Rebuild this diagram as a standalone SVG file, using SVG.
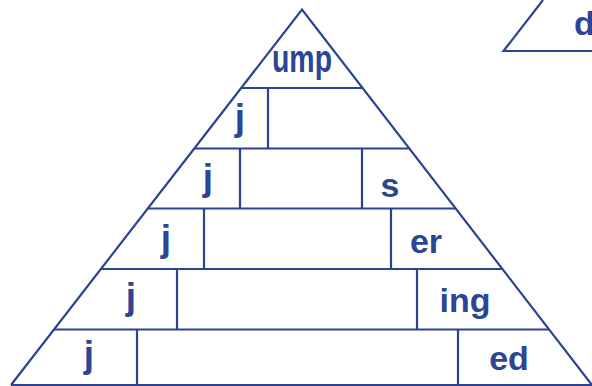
<svg xmlns="http://www.w3.org/2000/svg" width="592" height="386" viewBox="0 0 592 386">
<style>
.ln{stroke:#2b4391;stroke-width:2.2;fill:none;stroke-linecap:butt}
.t{font-family:"Liberation Sans",Arial,sans-serif;font-weight:bold;font-size:34px;fill:#2c4594;text-anchor:middle}
.j{font-size:37px}
</style>
<rect width="592" height="386" fill="#fff"/>
<g id="connectors">
<polyline class="ln" points="11,385 302,9.5 592,385"/>
<line class="ln" x1="11" y1="385" x2="592" y2="385"/>
<line class="ln" x1="241.2" y1="88" x2="362.6" y2="88"/>
<line class="ln" x1="194.3" y1="148.5" x2="409.3" y2="148.5"/>
<line class="ln" x1="147.8" y1="208.5" x2="455.6" y2="208.5"/>
<line class="ln" x1="100.9" y1="269" x2="502.3" y2="269"/>
<line class="ln" x1="54" y1="329.5" x2="549" y2="329.5"/>
<line class="ln" x1="268" y1="88" x2="268" y2="148.5"/>
<line class="ln" x1="240" y1="148.5" x2="240" y2="208.5"/>
<line class="ln" x1="362" y1="148.5" x2="362" y2="208.5"/>
<line class="ln" x1="204" y1="208.5" x2="204" y2="269"/>
<line class="ln" x1="391" y1="208.5" x2="391" y2="269"/>
<line class="ln" x1="177" y1="269" x2="177" y2="329.5"/>
<line class="ln" x1="417" y1="269" x2="417" y2="329.5"/>
<line class="ln" x1="137" y1="329.5" x2="137" y2="385"/>
<line class="ln" x1="458" y1="329.5" x2="458" y2="385"/>
<polyline class="ln" points="543,0 503.5,51 592,51"/>
</g>
<g id="n-ump"><text class="t" x="302" y="72" style="font-size:38px" textLength="60" lengthAdjust="spacingAndGlyphs">ump</text></g>
<g id="n-j1"><text class="t j" x="240" y="130">j</text></g>
<g id="n-j2"><text class="t j" x="208" y="190">j</text></g>
<g id="n-s"><text class="t" x="390" y="197">s</text></g>
<g id="n-j3"><text class="t j" x="166" y="251">j</text></g>
<g id="n-er"><text class="t" x="426" y="253">er</text></g>
<g id="n-j4"><text class="t j" x="131" y="309">j</text></g>
<g id="n-ing"><text class="t" x="465" y="312">ing</text></g>
<g id="n-j5"><text class="t j" x="89" y="367">j</text></g>
<g id="n-ed"><text class="t" x="509" y="370">ed</text></g>
<g id="n-d"><text class="t" x="574" y="35" style="text-anchor:start">d</text></g>
</svg>
